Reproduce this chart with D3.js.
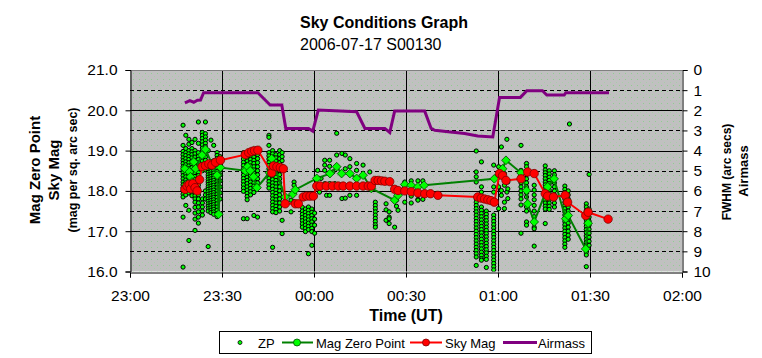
<!DOCTYPE html>
<html><head><meta charset="utf-8">
<script src="https://cdn.jsdelivr.net/npm/d3@7"></script>
<style>body{margin:0;background:#fff}svg{display:block}text{font-family:"Liberation Sans",Arial,sans-serif}</style>
</head><body><svg id="c" width="762" height="358"></svg>
<script>
// ---- DATA (time = minutes after 23:00 UT) ----
const titleText = "Sky Conditions Graph";
const subtitleText = "2006-07-17 S00130";
const timeTicks = [0, 30, 60, 90, 120, 150, 180];
const timeLabels = ["23:00", "23:30", "00:00", "00:30", "01:00", "01:30", "02:00"];
const magTicks = [16, 17, 18, 19, 20, 21];
const rightTicks = [0, 1, 2, 3, 4, 5, 6, 7, 8, 9, 10];

// ZP scatter: [time, [values...]]
const zpColumns = [
  [17.3, [19.63, 19.13, 18.98, 18.9, 18.82, 18.75, 18.68, 18.6, 18.52, 18.45, 18.38, 18.3, 18.22, 18.15, 18.08, 18.0, 17.92, 17.85, 17.35, 16.11]],
  [18.2, [19.38, 19.05, 18.95, 18.88, 18.8, 18.72, 18.65, 18.58, 18.5, 18.42, 18.35, 18.27, 18.2, 18.12, 18.05, 17.97, 17.9, 17.64]],
  [19.2, [19.28, 19.16, 19.0, 18.92, 18.85, 18.78, 18.7, 18.62, 18.55, 18.47, 18.4, 18.32, 18.25, 18.17, 18.1, 18.02, 17.95, 17.52, 16.77]],
  [20.2, [19.2, 19.05, 18.97, 18.9, 18.82, 18.74, 18.66, 18.58, 18.5, 18.43, 18.35, 18.28, 18.2, 18.12, 18.04, 17.96, 17.88]],
  [21.2, [19.28, 19.0, 18.92, 18.84, 18.76, 18.68, 18.6, 18.52, 18.44, 18.36, 18.28, 18.2, 18.12, 18.04, 17.96, 17.88, 17.8, 17.72, 17.59, 17.45, 17.3, 17.02]],
  [22.3, [19.71, 19.18, 18.95, 18.86, 18.78, 18.7, 18.62, 18.54, 18.46, 18.38, 18.3, 18.22, 18.14, 18.06, 17.98, 17.9, 17.8, 17.7, 17.6, 17.48, 17.35, 17.2]],
  [23.6, [19.45, 19.38, 19.3, 19.22, 19.14, 19.06, 18.98, 18.9, 18.82, 18.74, 18.66, 18.58, 18.5, 17.8, 17.7, 17.6, 17.5, 17.4]],
  [24.6, [19.71, 19.42, 19.34, 19.26, 19.18, 19.1, 19.0, 18.92, 18.84, 18.76, 18.68, 18.6, 18.52, 18.0, 17.9, 17.8]],
  [25.5, [19.0, 18.7, 18.64, 18.58, 18.52, 18.46, 18.4, 18.34, 18.28, 18.22, 18.16, 18.1, 18.04, 17.98, 17.92, 17.86, 17.8, 17.74, 17.68, 17.62, 17.56, 17.5, 16.62]],
  [26.4, [19.26, 18.72, 18.66, 18.6, 18.54, 18.48, 18.42, 18.36, 18.3, 18.24, 18.18, 18.12, 18.06, 18.0, 17.94, 17.88, 17.82, 17.76, 17.7, 17.64, 17.58, 17.52, 17.46]],
  [27.3, [19.13, 18.75, 18.68, 18.62, 18.56, 18.5, 18.44, 18.38, 18.32, 18.26, 18.2, 18.14, 18.08, 18.02, 17.96, 17.9, 17.84, 17.78, 17.72, 17.66, 17.6, 17.54, 17.48, 17.42]],
  [28.4, [18.95, 18.88, 18.8, 18.72, 18.64, 18.56, 18.48, 18.4, 18.32, 18.24, 18.16, 18.08, 18.0, 17.92, 17.84, 17.76, 17.68, 17.6, 17.52, 17.44, 17.36]],
  [29.4, [18.85, 18.7, 18.55, 18.4, 18.25, 18.1, 17.95, 17.8]],
  [37.0, [18.95, 18.87, 18.79, 18.71, 18.63, 18.55, 18.47, 18.39, 18.31, 18.23, 18.15, 18.07, 17.99, 17.31]],
  [38.2, [18.9, 18.82, 18.74, 18.66, 18.58, 18.5, 18.42, 18.34, 18.26, 18.18, 18.1, 18.02, 17.94, 17.86, 17.78, 17.31]],
  [39.3, [18.95, 18.86, 18.78, 18.7, 18.62, 18.54, 18.46, 18.38, 18.3, 18.22, 18.14, 18.06, 17.98, 17.9]],
  [40.4, [18.92, 18.84, 18.76, 18.68, 18.6, 18.52, 18.44, 18.36, 18.28, 18.2, 18.12, 18.04, 17.96, 17.39]],
  [41.6, [18.9, 18.8, 18.7, 18.6, 18.5, 18.4, 18.3, 18.2, 18.1, 17.35]],
  [45.3, [19.38, 19.33, 19.13, 18.95, 18.87, 18.79, 18.71, 18.63, 18.55, 18.47, 18.39, 18.31, 18.23, 18.15, 18.07]],
  [46.5, [19.0, 18.92, 18.84, 18.76, 18.68, 18.6, 18.52, 18.44, 18.36, 18.28, 18.2, 18.12, 18.04, 17.96, 17.88, 17.8, 17.72, 17.64, 17.56, 17.48, 16.6]],
  [47.6, [18.9, 18.82, 18.74, 18.66, 18.58, 18.5, 18.42, 18.34, 18.26, 18.18, 18.1, 18.02, 17.94, 17.86, 17.78, 17.7, 17.62, 17.54, 17.46]],
  [48.8, [19.0, 18.9, 18.8, 18.7, 18.6, 18.5, 18.4, 18.3, 18.2, 18.1, 18.0, 17.9, 17.8, 17.7, 17.6, 17.5]],
  [49.6, [18.95, 18.85, 18.75, 18.6, 17.27, 16.94]],
  [52.5, [17.77, 17.48]],
  [53.5, [18.22, 18.14, 17.73]],
  [56.2, [17.59, 17.5, 17.42, 17.34, 17.26, 17.18, 17.1]],
  [57.2, [17.55, 17.47, 17.39, 17.31, 17.23, 17.15, 17.07, 16.99]],
  [58.2, [17.6, 17.52, 17.44, 17.36, 17.28, 17.2, 17.12, 17.04, 16.44]],
  [59.3, [17.55, 17.47, 17.39, 17.31, 17.23, 17.15, 17.07, 16.99, 16.65]],
  [60.2, [17.45, 17.3, 17.15, 16.95]],
  [61.2, [18.51, 18.31]],
  [61.8, [17.97]],
  [62.3, [18.31]],
  [63.5, [18.76, 18.64, 18.51, 18.18]],
  [64.1, [17.89]],
  [65.1, [18.76, 18.61, 18.18, 17.89]],
  [66.2, [18.47]],
  [66.8, [18.18]],
  [67.4, [19.43, 18.89, 18.6]],
  [69.1, [18.93, 18.43, 17.81]],
  [70.2, [18.89, 18.55, 17.82]],
  [71.7, [18.8, 18.6, 17.89]],
  [73.9, [18.68, 18.51, 17.89]],
  [76.0, [18.64]],
  [78.2, [18.47]],
  [80.0, [17.72, 17.64, 17.56, 17.48, 17.4, 17.32, 17.24, 17.16, 17.1]],
  [83.5, [17.68, 17.53, 17.27]],
  [84.5, [17.48, 17.35, 17.31, 17.19]],
  [86.3, [17.77, 17.1]],
  [86.9, [17.77, 17.62]],
  [87.4, [17.52]],
  [89.6, [17.72, 18.22]],
  [91.7, [18.25, 17.87, 17.7]],
  [93.9, [18.25, 17.79, 17.77]],
  [95.5, [18.25, 17.79]],
  [112.9, [18.99, 18.47, 18.35, 18.22, 17.8, 17.72, 17.64, 17.56, 17.48, 17.4, 17.32, 17.24, 17.16, 17.08, 17.0, 16.92, 16.84, 16.76, 16.68, 16.6, 16.52, 16.44, 16.36, 16.15]],
  [114.6, [18.72, 18.1, 17.97, 17.6, 17.52, 17.44, 17.36, 17.28, 17.2, 17.12, 17.04, 16.96, 16.88, 16.8, 16.72, 16.64, 16.56, 16.48, 16.4, 16.32, 16.28]],
  [116.2, [17.8, 17.5, 17.42, 17.34, 17.26, 17.18, 17.1, 17.02, 16.94, 16.86, 16.78, 16.7, 16.62, 16.54, 16.46, 16.38, 16.3, 16.1]],
  [118.6, [18.64, 18.1, 17.97, 17.4, 17.32, 17.24, 17.16, 17.08, 17.0, 16.92, 16.84, 16.76, 16.68, 16.6, 16.52, 16.44, 16.36, 16.28, 16.2, 16.12, 16.04]],
  [120.2, [18.6, 18.1, 17.56]],
  [121.1, [19.09, 18.51, 18.01, 17.89]],
  [122.1, [18.43, 18.14, 17.72, 17.56]],
  [122.9, [19.28, 17.97]],
  [123.2, [18.22, 18.05, 17.81]],
  [127.5, [19.13, 18.51, 18.4, 18.3, 18.2, 18.1, 18.0, 17.9, 17.8, 17.65, 16.95]],
  [129.3, [18.68, 18.6, 18.5, 18.4, 18.3, 18.2, 18.1, 17.95, 17.85, 17.6, 17.5, 17.23, 17.15]],
  [131.8, [18.14, 18.02, 17.9, 17.78, 17.64, 17.5, 17.36, 17.22, 17.1, 17.06, 16.63]],
  [135.4, [18.62, 18.52, 18.45, 18.38, 18.3, 18.22, 18.15, 18.07, 18.0, 17.92, 17.85, 17.77, 17.7, 17.62, 17.55, 17.19]],
  [136.7, [18.5, 18.42, 18.34, 18.26, 18.18, 18.1, 18.02, 17.94, 17.86, 17.78, 17.7, 17.62, 17.54]],
  [138.4, [18.5, 18.4, 18.3, 18.2, 18.1, 18.0, 17.9, 17.8, 17.7, 17.6]],
  [141.8, [18.12, 18.04, 17.96, 17.88, 17.8, 17.72, 17.64, 17.56, 17.48, 17.4, 17.32, 17.24, 17.16, 17.08, 17.0, 16.92, 16.84, 16.76, 16.68, 16.6]],
  [142.9, [18.0, 17.9, 17.8, 17.7, 17.6, 17.5, 17.4, 17.3, 17.2, 17.1, 17.0, 16.9, 16.8]],
  [143.3, [19.66]],
  [148.8, [17.68, 17.6, 17.52, 17.44, 17.36, 17.28, 17.2, 17.12, 17.04, 16.96, 16.88, 16.8, 16.72, 16.64, 16.56, 16.48, 16.41, 16.12]],
  [149.7, [18.41, 17.55, 17.45, 17.35, 17.25, 17.15, 17.05, 16.95, 16.85, 16.75, 16.65]]
];

// Mag Zero Point series
const mzpTime = [17.9, 19.4, 19.7, 20.2, 20.8, 21.4, 23.5, 24.6, 28.4, 28.9, 29.5, 37.6, 38.4, 39.2, 40.3, 41.4, 45.5, 46.2, 50.6, 53.1, 53.9, 60.9, 65.2, 67.4, 69.0, 71.7, 73.9, 76.0, 78.7, 86.3, 87.4, 89.6, 91.7, 93.9, 95.9, 118.8, 120.5, 121.5, 122.6, 127.5, 129.3, 129.7, 131.8, 136.2, 138.3, 142.1, 142.9, 148.6, 149.4];
const mzpValue = [18.55, 18.47, 18.35, 18.22, 18.72, 18.55, 18.89, 19.03, 18.39, 17.42, 18.58, 18.5, 18.6, 18.5, 18.35, 18.08, 18.45, 18.8, 17.85, 17.92, 18.03, 18.31, 18.43, 18.6, 18.43, 18.43, 18.31, 18.39, 18.06, 17.77, 17.89, 18.16, 18.14, 18.1, 18.14, 18.3, 18.39, 18.55, 18.76, 18.45, 18.01, 17.68, 17.23, 18.1, 18.3, 17.31, 17.39, 16.56, 17.2];

// Sky Mag series
const skyTime = [17.9, 18.6, 19.3, 19.8, 20.5, 21.2, 21.9, 22.7, 23.5, 24.6, 25.7, 26.7, 27.9, 29.5, 37.6, 38.7, 39.7, 40.6, 41.7, 46.2, 46.8, 47.9, 49.0, 50.0, 50.6, 53.9, 54.9, 56.5, 57.6, 58.7, 59.8, 60.9, 62.0, 64.0, 66.0, 67.9, 69.5, 71.7, 73.9, 76.0, 77.7, 78.7, 79.9, 80.9, 82.0, 83.1, 84.7, 86.3, 87.4, 89.6, 91.7, 93.9, 96.1, 98.0, 100.4, 113.4, 114.5, 115.6, 116.7, 117.7, 118.8, 120.5, 121.5, 122.6, 127.5, 129.7, 131.8, 135.4, 136.2, 138.1, 141.9, 142.7, 148.6, 149.4, 155.9];
const skyValue = [18.04, 18.12, 18.16, 18.05, 18.18, 18.08, 18.0, 18.28, 18.6, 18.63, 18.67, 18.64, 18.71, 18.76, 18.9, 18.95, 18.98, 19.0, 19.01, 18.45, 18.62, 18.6, 18.58, 18.55, 17.68, 17.68, 17.68, 17.85, 17.87, 17.87, 17.87, 18.12, 18.12, 18.12, 18.12, 18.12, 18.12, 18.12, 18.12, 18.12, 18.12, 18.12, 18.26, 18.26, 18.25, 18.24, 18.23, 18.04, 18.01, 18.0, 17.98, 17.95, 17.93, 17.93, 17.89, 17.85, 17.82, 17.8, 17.78, 17.76, 17.72, 18.43, 18.38, 18.26, 18.3, 18.47, 18.43, 17.93, 17.87, 17.85, 17.89, 17.72, 17.39, 17.47, 17.3];

// Airmass series (right axis)
const airTime = [17.9, 19.5, 20.8, 22.0, 23.0, 24.0, 41.7, 45.7, 49.5, 50.8, 58.2, 59.6, 61.4, 73.9, 76.6, 83.1, 84.7, 86.3, 96.1, 98.2, 99.4, 103.7, 109.1, 113.4, 118.3, 120.5, 127.3, 129.4, 134.5, 135.9, 141.6, 142.1, 156.2];
const airValue = [1.63, 1.52, 1.6, 1.5, 1.49, 1.13, 1.13, 1.74, 1.74, 2.9, 2.9, 3.03, 1.99, 2.07, 2.9, 2.9, 3.1, 2.04, 2.04, 2.9, 2.99, 3.07, 3.15, 3.28, 3.32, 1.36, 1.36, 1.03, 1.03, 1.24, 1.24, 1.13, 1.13];

const legendNames = ["ZP", "Mag Zero Point", "Sky Mag", "Airmass"];

// ---- CHART ----
const svg = d3.select("#c");
const L = 130, R = 682, T = 70, B = 271.5;
const x = d3.scaleLinear().domain([0, 180]).range([L, R]);
const y = d3.scaleLinear().domain([16, 21]).range([B, T]);
const y2 = d3.scaleLinear().domain([0, 10]).range([T, B]);

const defs = svg.append("defs");
const pat = defs.append("pattern").attr("id", "bg").attr("patternUnits", "userSpaceOnUse")
  .attr("width", 6).attr("height", 6);
pat.append("rect").attr("width", 6).attr("height", 6).attr("fill", "#c0c0c0");
pat.append("rect").attr("x", 1).attr("y", 1).attr("width", 1).attr("height", 1).attr("fill", "#8fce8f");
pat.append("rect").attr("x", 4).attr("y", 4).attr("width", 1).attr("height", 1).attr("fill", "#a6cfa6");
defs.append("clipPath").attr("id", "clip").append("rect").attr("x", L).attr("y", T).attr("width", R - L).attr("height", B - T);

svg.append("rect").attr("x", L).attr("y", T).attr("width", R - L).attr("height", B - T).attr("fill", "url(#bg)");

// gridlines
const grid = svg.append("g");
[1, 3, 5, 7, 9].forEach(v => grid.append("line").attr("x1", L).attr("x2", R).attr("y1", Math.round(y2(v)) + 0.5).attr("y2", Math.round(y2(v)) + 0.5)
  .attr("stroke", "#000").attr("stroke-dasharray", "4,3"));
[17, 18, 19, 20].forEach(v => grid.append("line").attr("x1", L).attr("x2", R).attr("y1", Math.round(y(v)) + 0.5).attr("y2", Math.round(y(v)) + 0.5)
  .attr("stroke", "#000"));
[30, 60, 90, 120, 150].forEach(t => grid.append("line").attr("x1", Math.round(x(t)) + 0.5).attr("x2", Math.round(x(t)) + 0.5).attr("y1", T).attr("y2", B)
  .attr("stroke", "#000"));
svg.append("line").attr("x1", L).attr("x2", R).attr("y1", T + 0.5).attr("y2", T + 0.5).attr("stroke", "#808080");

// axes
const fontAxis = "15.5px";
const gx = svg.append("g").attr("transform", `translate(0,${Math.round(B) + 0.5})`)
  .call(d3.axisBottom(x).tickValues(timeTicks).tickFormat((d, i) => timeLabels[i]).tickSizeOuter(0).tickSize(5).tickPadding(12));
const gy = svg.append("g").attr("transform", `translate(${L + 0.5},0)`)
  .call(d3.axisLeft(y).tickValues(magTicks).tickFormat(d3.format(".1f")).tickSizeOuter(0).tickSize(5).tickPadding(8));
const gy2 = svg.append("g").attr("transform", `translate(${R + 0.5},0)`)
  .call(d3.axisRight(y2).tickValues(rightTicks).tickFormat(d3.format("d")).tickSizeOuter(0).tickSize(5).tickPadding(6));
[gx, gy, gy2].forEach(g => {
  g.selectAll("path,line").attr("stroke", "#000").attr("stroke-width", 1);
  g.selectAll("text").attr("font-size", fontAxis).attr("fill", "#000").attr("font-family", '"Liberation Sans",Arial,sans-serif');
});

const plot = svg.append("g").attr("clip-path", "url(#clip)");

// ZP scatter
const zpPoints = zpColumns.flatMap(([t, vals]) => vals.map(v => [t, v]));
plot.append("g").selectAll("circle").data(zpPoints).join("circle")
  .attr("cx", d => x(d[0])).attr("cy", d => y(d[1])).attr("r", 2.1)
  .attr("fill", "#00ff00").attr("stroke", "#000").attr("stroke-width", 1);

// Mag Zero Point
const mzp = mzpTime.map((t, i) => [t, mzpValue[i]]);
const line = d3.line().x(d => x(d[0])).y(d => y(d[1]));
plot.append("path").datum(mzp).attr("d", line).attr("fill", "none").attr("stroke", "#008000").attr("stroke-width", 2);
const diamond = d3.symbol().type(d3.symbolSquare).size(38);
plot.append("g").selectAll("path").data(mzp).join("path")
  .attr("transform", d => `translate(${x(d[0])},${y(d[1])}) rotate(45)`).attr("d", diamond)
  .attr("fill", "#00ff00").attr("stroke", "#005000").attr("stroke-width", 0.8);

// Sky Mag
const sky = skyTime.map((t, i) => [t, skyValue[i]]);
plot.append("path").datum(sky).attr("d", line).attr("fill", "none").attr("stroke", "#ff0000").attr("stroke-width", 2);
plot.append("g").selectAll("circle").data(sky).join("circle")
  .attr("cx", d => x(d[0])).attr("cy", d => y(d[1])).attr("r", 4.2)
  .attr("fill", "#ff0000").attr("stroke", "#800000").attr("stroke-width", 0.8);

// Airmass
const air = airTime.map((t, i) => [t, airValue[i]]);
plot.append("path").datum(air).attr("d", d3.line().x(d => x(d[0])).y(d => y2(d[1])))
  .attr("fill", "none").attr("stroke", "#800080").attr("stroke-width", 3);

// titles
svg.append("text").attr("x", 300).attr("y", 28).attr("font-size", "16px").attr("font-weight", "bold").text(titleText);
svg.append("text").attr("x", 300).attr("y", 50).attr("font-size", "16px").text(subtitleText);
svg.append("text").attr("x", (L + R) / 2).attr("y", 321).attr("text-anchor", "middle").attr("font-size", "16px").attr("font-weight", "bold").text("Time (UT)");

const ly = 170;
svg.append("text").attr("transform", `translate(40,${ly}) rotate(-90)`).attr("text-anchor", "middle").attr("font-size", "15px").attr("font-weight", "bold").text("Mag Zero Point");
svg.append("text").attr("transform", `translate(59,${ly}) rotate(-90)`).attr("text-anchor", "middle").attr("font-size", "15px").attr("font-weight", "bold").text("Sky Mag");
svg.append("text").attr("transform", `translate(77,${ly}) rotate(-90)`).attr("text-anchor", "middle").attr("font-size", "12.5px").attr("font-weight", "bold").text("(mag per sq. arc sec)");
svg.append("text").attr("transform", `translate(731,172) rotate(-90)`).attr("text-anchor", "middle").attr("font-size", "12px").attr("font-weight", "bold").text("FWHM (arc secs)");
svg.append("text").attr("transform", `translate(748,171) rotate(-90)`).attr("text-anchor", "middle").attr("font-size", "13px").attr("font-weight", "bold").text("Airmass");

// legend
const lg = svg.append("g");
lg.append("rect").attr("x", 219.5).attr("y", 331.5).attr("width", 372).attr("height", 22).attr("fill", "#fff").attr("stroke", "#000");
const lyc = 342.5;
lg.append("circle").attr("cx", 240).attr("cy", lyc).attr("r", 2).attr("fill", "#00ff00").attr("stroke", "#000").attr("stroke-width", 0.8);
lg.append("text").attr("x", 258).attr("y", lyc + 5).attr("font-size", "13px").text(legendNames[0]);
lg.append("line").attr("x1", 282).attr("x2", 313).attr("y1", lyc).attr("y2", lyc).attr("stroke", "#008000").attr("stroke-width", 2);
lg.append("circle").attr("cx", 297).attr("cy", lyc).attr("r", 3.5).attr("fill", "#00ff00").attr("stroke", "#005000").attr("stroke-width", 0.8);
lg.append("text").attr("x", 316).attr("y", lyc + 5).attr("font-size", "13px").text(legendNames[1]);
lg.append("line").attr("x1", 410).attr("x2", 442).attr("y1", lyc).attr("y2", lyc).attr("stroke", "#ff0000").attr("stroke-width", 2);
lg.append("circle").attr("cx", 426).attr("cy", lyc).attr("r", 3.5).attr("fill", "#ff0000").attr("stroke", "#800000").attr("stroke-width", 0.8);
lg.append("text").attr("x", 445).attr("y", lyc + 5).attr("font-size", "13px").text(legendNames[2]);
lg.append("line").attr("x1", 503).attr("x2", 537).attr("y1", lyc).attr("y2", lyc).attr("stroke", "#800080").attr("stroke-width", 3);
lg.append("text").attr("x", 538).attr("y", lyc + 5).attr("font-size", "13px").text(legendNames[3]);
</script></body></html>
